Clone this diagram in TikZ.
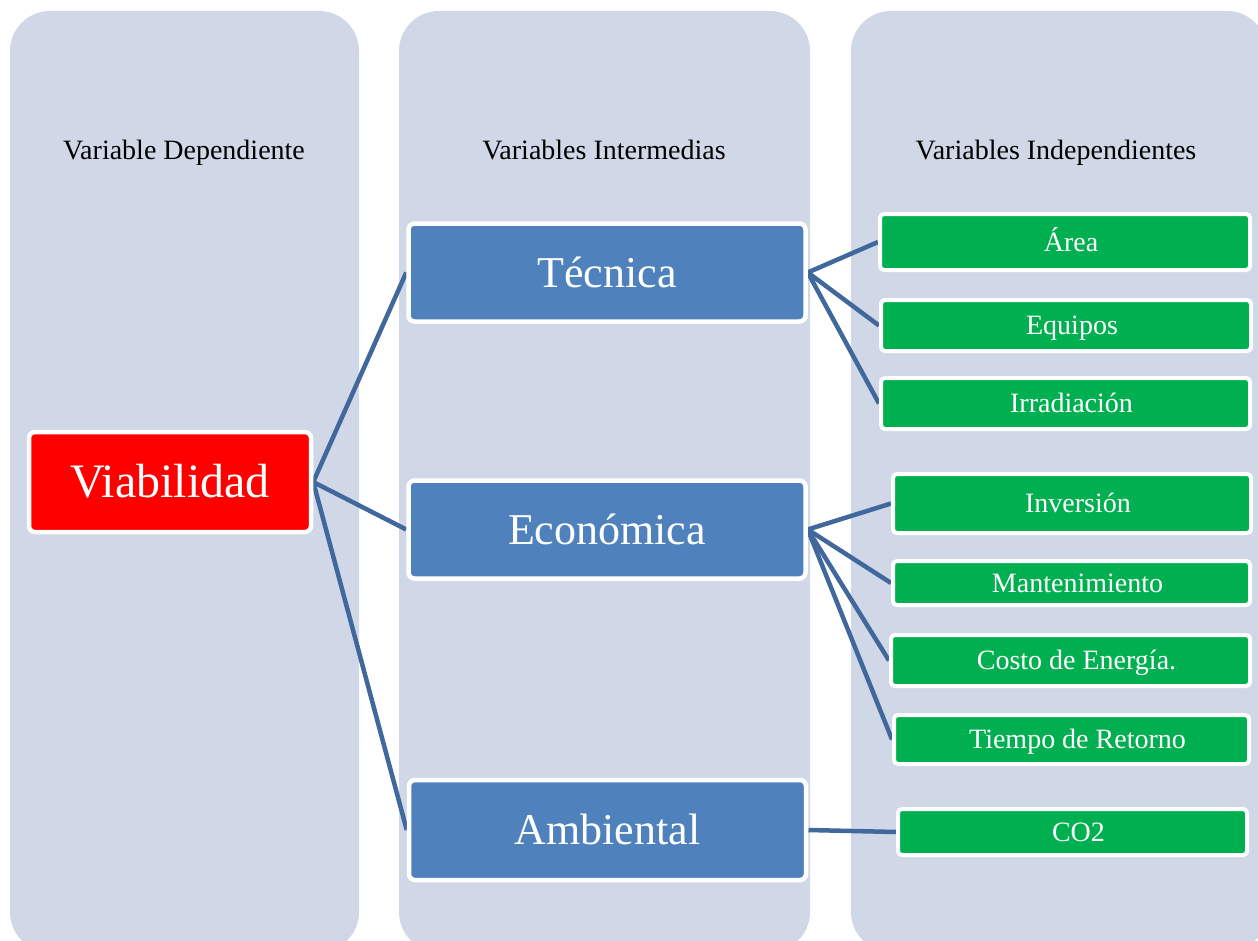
\documentclass[tikz,border=0pt]{standalone}
\usepackage{fontspec}
\setmainfont{Liberation Serif}
\pgfdeclarelayer{back}
\pgfdeclarelayer{links}
\pgfsetlayers{back,links,main}
\definecolor{colfill}{RGB}{208,216,232}
\definecolor{boxblue}{RGB}{79,129,189}
\definecolor{boxred}{RGB}{255,0,0}
\definecolor{boxgreen}{RGB}{0,176,80}
\definecolor{linkblue}{RGB}{64,104,156}
\tikzset{
  column/.style={fill=colfill, rounded corners=40pt},
  heading/.style={font=\fontsize{28}{32}\selectfont, text=black, inner sep=0pt, anchor=base},
  boxtext/.style={text depth=0pt, inner sep=0pt, text=white},
  mainbox/.style={boxtext, text height=31.5pt, fill=boxred, draw=white, line width=4.5pt,
    rounded corners=6pt, font=\fontsize{48}{56}\selectfont},
  midbox/.style={boxtext, text height=29pt, fill=boxblue, draw=white, line width=4.5pt,
    rounded corners=6pt, minimum width=397pt, minimum height=98pt,
    font=\fontsize{44}{52}\selectfont},
  leafbox/.style={boxtext, text height=18.5pt, fill=boxgreen, draw=white, line width=4pt,
    rounded corners=4pt, font=\fontsize{28}{32}\selectfont},
  link/.style={draw=linkblue, line width=4.5pt},
}
% leaf labels sit slightly right of the box centre
\newcommand{\leaftext}[1]{\hspace*{12pt}#1}
\begin{document}
\begin{tikzpicture}[x=1pt, y=-1pt]
\useasboundingbox (0,0) rectangle (1258,940);
\clip (0,0) rectangle (1258,940);

% white page and the three column panels
\begin{pgfonlayer}{back}
  \fill[white] (0,0) rectangle (1258,940);
  \fill[column] (10,11) rectangle (359,952);
  \fill[column] (399,11) rectangle (810,952);
  \fill[column] (851,11) rectangle (1267,952);
\end{pgfonlayer}

% column headings
\node[heading] (h1) at (184,159) {Variable Dependiente};
\node[heading] (h2) at (604,159) {Variables Intermedias};
\node[heading] (h3) at (1056,159) {Variables Independientes};

% dependent variable
\node[mainbox, minimum width=282pt, minimum height=100pt] (viab) at (170,482) {Viabilidad};

% intermediate variables
\node[midbox] (tec) at (607,272.5) {Técnica};
\node[midbox] (eco) at (607,529.5) {Económica};
\node[midbox, minimum height=100pt] (amb) at (607.5,830) {Ambiental};

% independent variables
\node[leafbox, minimum width=370pt, minimum height=56pt] (area) at (1065,242) {\leaftext{Área}};
\node[leafbox, minimum width=370pt, minimum height=51pt] (equi) at (1066,325.5) {\leaftext{Equipos}};
\node[leafbox, minimum width=369pt, minimum height=51pt] (irra) at (1065.5,403.5) {\leaftext{Irradiación}};
\node[leafbox, minimum width=358pt, minimum height=59pt] (inve) at (1072,503.5) {\leaftext{Inversión}};
\node[leafbox, minimum width=357pt, minimum height=44pt] (mant) at (1071.5,583) {\leaftext{Mantenimiento}};
\node[leafbox, minimum width=359pt, minimum height=51pt] (cost) at (1070.5,660.5) {\leaftext{Costo de Energía.}};
\node[leafbox, minimum width=355pt, minimum height=49pt] (tiem) at (1071.5,739.5) {\leaftext{Tiempo de Retorno}};
\node[leafbox, minimum width=349pt, minimum height=46pt] (co2) at (1072.5,832) {\leaftext{CO2}};

% connectors
\begin{pgfonlayer}{links}
  \draw[link] (viab.east) -- (tec.west);
  \draw[link] (viab.east) -- (eco.west);
  \draw[link] (viab.east) -- (amb.west);
  \draw[link] (tec.east) -- (area.west);
  \draw[link] (tec.east) -- (equi.west);
  \draw[link] (tec.east) -- (irra.west);
  \draw[link] (eco.east) -- (inve.west);
  \draw[link] (eco.east) -- (mant.west);
  \draw[link] (eco.east) -- (cost.west);
  \draw[link] (eco.east) -- (tiem.west);
  \draw[link] (amb.east) -- (co2.west);
\end{pgfonlayer}
\end{tikzpicture}
\end{document}
